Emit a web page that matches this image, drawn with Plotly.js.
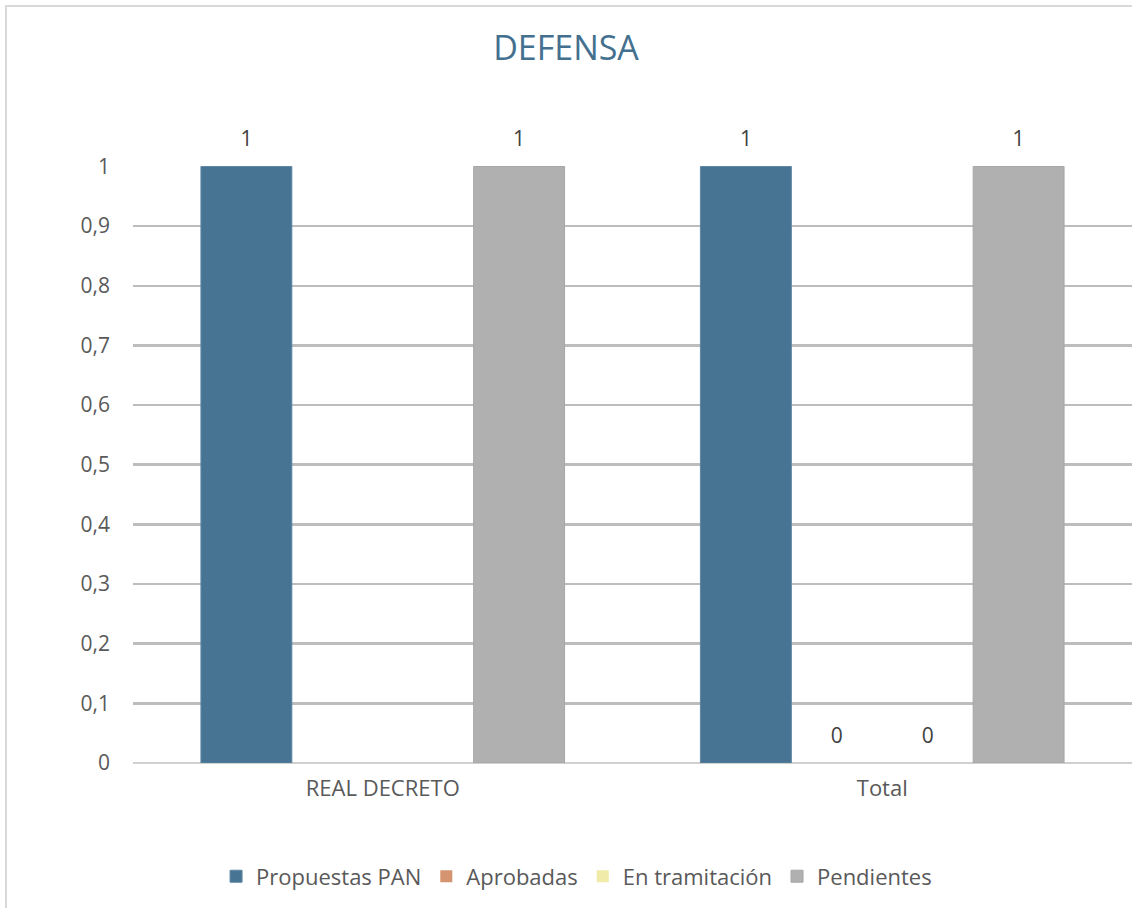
<!DOCTYPE html>
<html>
<head>
<meta charset="utf-8">
<script src="https://cdn.plot.ly/plotly-3.0.1.min.js"></script>
<style>
html,body{margin:0;padding:0;background:#fff;overflow:hidden;}
#frame{position:absolute;left:5px;top:5px;width:1200px;height:1000px;border-left:2px solid #d9d9d9;border-top:2px solid #d9d9d9;}
#chart{position:absolute;left:0;top:0;width:1132px;height:908px;}
</style>
</head>
<body>
<div id="frame"></div>
<div id="chart"></div>
<script>
const categories = ["REAL DECRETO", "Total"];
const propuestasPAN = [1, 1];
const aprobadas = [null, 0];
const enTramitacion = [null, 0];
const pendientes = [1, 1];
const seriesNames = ["Propuestas PAN", "Aprobadas", "En tramitación", "Pendientes"];
const seriesColors = ["#467492", "#d4946f", "#f0eba8", "#b0b0b0"];
const yTicks = [0, 0.1, 0.2, 0.3, 0.4, 0.5, 0.6, 0.7, 0.8, 0.9, 1];
const yTickText = ["0", "0,1", "0,2", "0,3", "0,4", "0,5", "0,6", "0,7", "0,8", "0,9", "1"];

const FONT = "Open Sans, sans-serif";
const allValues = [propuestasPAN, aprobadas, enTramitacion, pendientes];
const bars = allValues.map((vals, i) => ({
  type: "bar",
  name: seriesNames[i],
  x: categories,
  y: vals,
  offsetgroup: "g" + i,
  marker: {color: seriesColors[i], line: {color: i === 3 ? "#a6a6a6" : "#5f87a3", width: i === 0 || i === 3 ? 1 : 0}},
  hoverinfo: "none"
}));
const labels = allValues.map((vals, i) => ({
  type: "scatter",
  mode: "markers+text",
  name: seriesNames[i],
  showlegend: false,
  x: categories,
  y: vals,
  offsetgroup: "g" + i,
  marker: {size: 22, opacity: 0, color: "#fff"},
  text: vals.map(v => v === null ? "" : String(v)),
  textposition: "top center",
  textfont: {family: FONT, size: 21, color: "#404040"},
  cliponaxis: false,
  hoverinfo: "none"
}));

const layout = {
  width: 1132,
  height: 908,
  margin: {l: 133, r: 0, t: 166, b: 145},
  paper_bgcolor: "rgba(0,0,0,0)",
  plot_bgcolor: "rgba(0,0,0,0)",
  barmode: "group",
  scattermode: "group",
  bargap: 0.272,
  scattergap: 0.272,
  bargroupgap: 0,
  title: {
    text: "DEFENSA",
    font: {family: FONT, size: 34, color: "#44708f"},
    x: 0.5, xanchor: "center",
    y: 0.947, yanchor: "middle"
  },
  xaxis: {
    type: "category",
    showgrid: false,
    showline: false,
    zeroline: false,
    ticks: "",
    tickfont: {family: FONT, size: 22, color: "#595959"},
    ticklabelstandoff: 10
  },
  yaxis: {
    range: [0, 1.0008],
    tickvals: yTicks,
    ticktext: yTickText,
    showgrid: true,
    gridcolor: "#bdbdbd",
    gridwidth: 2.5,
    zeroline: true,
    zerolinecolor: "#d0d0d0",
    zerolinewidth: 2.5,
    showline: false,
    ticks: "",
    tickfont: {family: FONT, size: 21, color: "#595959"},
    ticklabelstandoff: 22
  },
  legend: {
    orientation: "h",
    x: 0.444, xanchor: "center",
    y: -0.19, yanchor: "middle",
    font: {family: FONT, size: 22, color: "#595959"},
    itemwidth: 30,
    traceorder: "normal"
  },
  showlegend: true
};

Plotly.newPlot("chart", bars.concat(labels), layout, {staticPlot: true, displayModeBar: false});
</script>
</body>
</html>
